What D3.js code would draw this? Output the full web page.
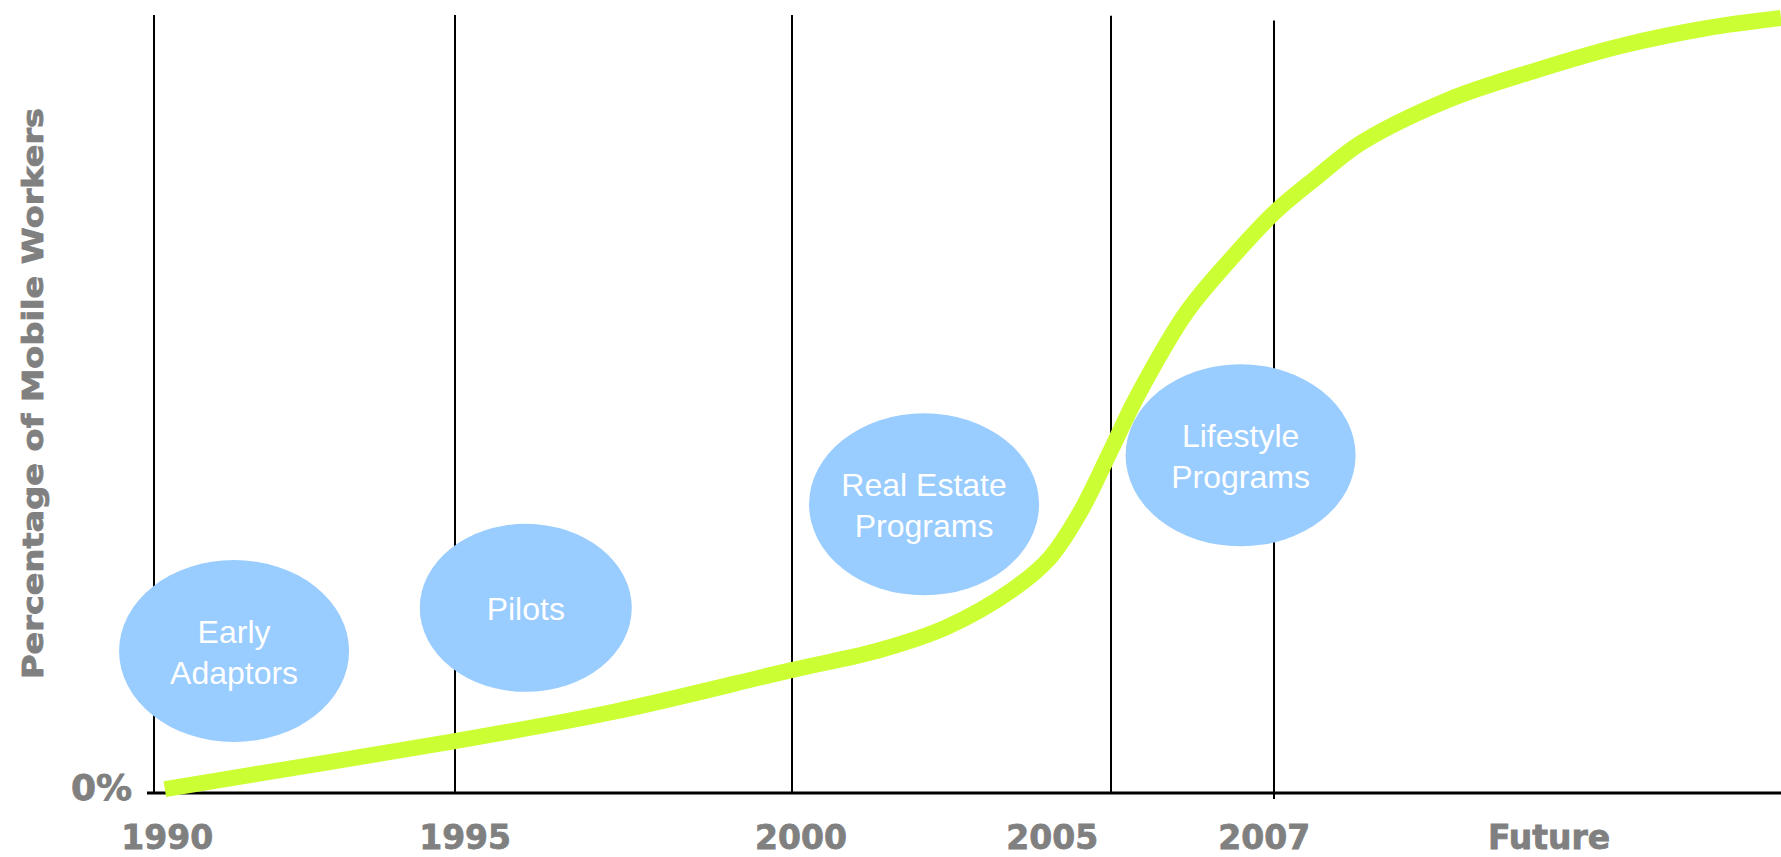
<!DOCTYPE html>
<html>
<head>
<meta charset="utf-8">
<script src="https://cdn.jsdelivr.net/npm/d3@7"></script>
<style>
  body { margin: 0; background: white; }
  svg { display: block; }
</style>
</head>
<body>
<script>
var width = 1781
var height = 857

var grayText = "#808080"
var curveColor = "#CCFF33"
var bubbleColor = "#99CCFF"

// year breakpoints of the diagram (the spacing is not linear in the source)
var axisYears = [1990, 1995, 2000, 2005, 2007, 2015]
var gridYears = [1990, 1995, 2000, 2005, 2007]
var gridTopPct = [100, 100, 100, 99.9, 99.3]

var tickLabels = ["1990", "1995", "2000", "2005", "2007", "Future"]
var tickLabelAt = [1990.22, 1995.15, 2000.14, 2004.08, 2006.88, 2011.34]

// adoption curve (year, % of mobile workers)
var curveYears = [1990.18, 1995, 1997.34, 2000, 2001.38, 2002.43, 2003.45, 2004.04, 2004.51, 2005, 2005.31,
                  2005.93, 2006.46, 2007, 2007.68, 2008.37, 2009.74, 2011.1, 2012.47, 2013.84, 2015]
var curvePct = [0.51, 6.68, 10.41, 15.81, 18.38, 21.34, 26.09, 30.21, 35.99, 44.09, 50.77,
                61.83, 68.51, 74.55, 79.18, 83.55, 89.07, 92.8, 96.02, 98.33, 99.61]

// phase bubbles
var phaseNames = [["Early", "Adaptors"], ["Pilots"], ["Real Estate", "Programs"], ["Lifestyle", "Programs"]]
var phaseYears = [1991.33, 1996.05, 2002.07, 2006.59]
var phasePct = [18.25, 23.8, 37.1, 43.4]

var x = d3.scaleLinear()
    .domain(axisYears)
    .range([154, 455, 792, 1111, 1274, 1781])

var y = d3.scaleLinear()
    .domain([0, 100])
    .range([793, 15])

var svg = d3.select("body")
    .append("svg")
    .attr("width", width)
    .attr("height", height)

svg.append("rect")
    .attr("width", width)
    .attr("height", height)
    .attr("fill", "white")

// vertical period lines
svg.selectAll(".grid")
    .data(gridYears)
    .enter()
    .append("line")
    .attr("class", "grid")
    .attr("x1", (d) => x(d))
    .attr("x2", (d) => x(d))
    .attr("y1", (d, i) => y(gridTopPct[i]))
    .attr("y2", (d) => d === 2007 ? y(0) + 6 : y(0))
    .attr("stroke", "black")
    .attr("stroke-width", 2)

// baseline
svg.append("line")
    .attr("x1", x(1990) - 7)
    .attr("x2", width)
    .attr("y1", y(0))
    .attr("y2", y(0))
    .attr("stroke", "black")
    .attr("stroke-width", 3)

var boldText = function (sel, size) {
    sel.attr("font-family", "DejaVu Sans")
        .attr("font-weight", "bold")
        .attr("font-size", size)
        .attr("fill", grayText)
        .attr("stroke", grayText)
        .attr("stroke-width", 0.8)
}

svg.append("text")
    .attr("x", 132)
    .attr("y", y(0) + 7)
    .attr("text-anchor", "end")
    .call(boldText, 36)
    .text("0%")

svg.selectAll(".tickLabel")
    .data(tickLabels)
    .enter()
    .append("text")
    .attr("class", "tickLabel")
    .attr("x", (d, i) => x(tickLabelAt[i]))
    .attr("y", 849)
    .attr("text-anchor", "middle")
    .call(boldText, 33)
    .text((d) => d)

svg.append("text")
    .attr("transform", "translate(43," + 393.5 + ") rotate(-90)")
    .attr("text-anchor", "middle")
    .call(boldText, 28)
    .attr("textLength", 571)
    .attr("lengthAdjust", "spacingAndGlyphs")
    .text("Percentage of Mobile Workers")

// bubbles
var bubble = svg.selectAll(".bubble")
    .data(phaseNames)
    .enter()
    .append("g")
    .attr("class", "bubble")
    .attr("transform", (d, i) => "translate(" + x(phaseYears[i]) + "," + y(phasePct[i]) + ")")

bubble.append("ellipse")
    .attr("rx", (d) => d.length === 1 ? 106 : 115)
    .attr("ry", (d) => d.length === 1 ? 84 : 91)
    .attr("fill", bubbleColor)

bubble.each(function (lines) {
    var g = d3.select(this)
    lines.forEach(function (t, j) {
        g.append("text")
            .attr("y", 12 + (j - (lines.length - 1) / 2) * 41)
            .attr("text-anchor", "middle")
            .attr("font-family", "Liberation Sans, Arial, sans-serif")
            .attr("font-size", 32)
            .attr("fill", "white")
            .text(t)
    })
})

// adoption curve
var line = d3.line()
    .x((d, i) => x(curveYears[i]))
    .y((d) => y(d))
    .curve(d3.curveCatmullRom.alpha(0.5))

svg.append("path")
    .datum(curvePct)
    .attr("d", line)
    .attr("fill", "none")
    .attr("stroke", curveColor)
    .attr("stroke-width", 16)
</script>
</body>
</html>
